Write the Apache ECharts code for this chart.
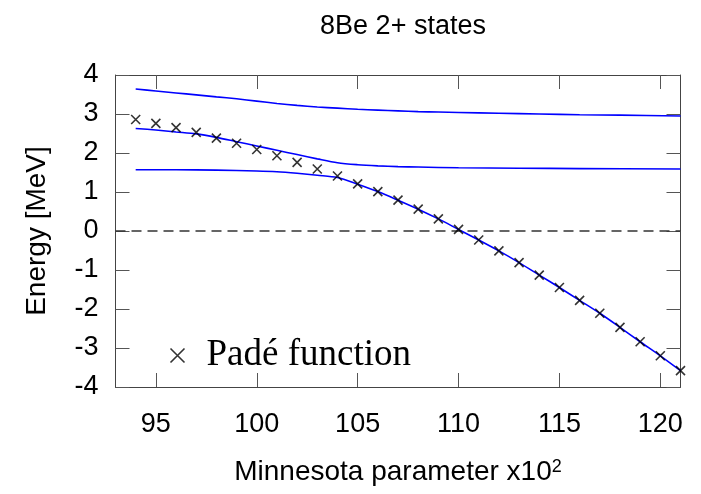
<!DOCTYPE html>
<html><head><meta charset="utf-8">
<script src="https://cdn.jsdelivr.net/npm/echarts@6/dist/echarts.min.js"></script>
<style>html,body{margin:0;padding:0;background:#fff}#c{width:701px;height:494px}</style>
</head><body><div id="c"></div>
<script>
// ---- data ----
const xTickValues = [95, 100, 105, 110, 115, 120];
const yTickValues = [-4, -3, -2, -1, 0, 1, 2, 3, 4];
const padeX = [94, 95, 96, 97, 98, 99, 100, 101, 102, 103, 104, 105, 106, 107, 108, 109, 110, 111, 112, 113, 114, 115, 116, 117, 118, 119, 120, 121];
const padeY = [2.86, 2.76, 2.65, 2.53, 2.38, 2.25, 2.09, 1.93, 1.76, 1.59, 1.41, 1.21, 1.01, 0.79, 0.56, 0.31, 0.04, -0.23, -0.51, -0.81, -1.13, -1.45, -1.78, -2.11, -2.47, -2.84, -3.20, -3.58];
const upperX = [94, 95, 96, 97, 98, 99, 100, 101, 102, 103, 104, 105, 106, 107, 108, 109, 110, 112, 114, 116, 118, 121];
const upperY = [3.64, 3.59, 3.54, 3.49, 3.44, 3.39, 3.33, 3.27, 3.22, 3.18, 3.15, 3.12, 3.10, 3.08, 3.06, 3.05, 3.04, 3.02, 3.00, 2.98, 2.97, 2.95];
const middleX = [94, 95, 96, 97, 98, 99, 100, 101, 102, 103, 104, 105, 106, 107, 108, 110, 113, 116, 121];
const middleY = [2.63, 2.59, 2.54, 2.49, 2.40, 2.29, 2.18, 2.07, 1.96, 1.85, 1.75, 1.70, 1.67, 1.65, 1.64, 1.62, 1.61, 1.60, 1.59];
const lowerX = [94, 96, 98, 100, 101, 102, 103, 104, 105, 106, 107, 108, 109, 110, 111, 112, 113, 114, 115, 116, 117, 118, 119, 120, 121];
const lowerY = [1.57, 1.57, 1.56, 1.54, 1.52, 1.48, 1.43, 1.37, 1.20, 1.01, 0.79, 0.56, 0.31, 0.04, -0.23, -0.51, -0.81, -1.13, -1.45, -1.78, -2.11, -2.47, -2.84, -3.20, -3.58];
const zeroLevel = 0;
const xMin = 93, xMax = 121, yMin = -4, yMax = 4;

// ---- helpers ----
const pairs = (xs, ys) => xs.map((x, i) => [x, ys[i]]);
const FONT = '"Liberation Sans", Arial, sans-serif';
const axisCol = '#444';
const tickCol = '#555';
const cross = 'path://M0,0L10,10M0,10L10,0';

function xAxisDef(pos, showLabel) {
  return {
    type: 'value', position: pos, min: xMin, max: xMax,
    axisLine: { show: true, onZero: false, lineStyle: { color: axisCol } },
    axisTick: { show: true, inside: true, length: 14, customValues: xTickValues, lineStyle: { color: tickCol, width: 1 } },
    axisLabel: { show: showLabel, customValues: xTickValues, margin: 24, color: '#000', fontSize: 27, fontFamily: FONT },
    splitLine: { show: false }
  };
}
function yAxisDef(pos, showLabel) {
  return {
    type: 'value', position: pos, min: yMin, max: yMax, interval: 1,
    axisLine: { show: true, onZero: false, lineStyle: { color: axisCol } },
    axisTick: { show: true, inside: true, length: 14, customValues: yTickValues, lineStyle: { color: tickCol, width: 1 } },
    axisLabel: { show: showLabel, customValues: yTickValues, margin: 17, color: '#000', fontSize: 27, fontFamily: FONT },
    splitLine: { show: false }
  };
}

const xBottom = xAxisDef('bottom', true);
xBottom.name = 'Minnesota parameter x10{sup|2}';
xBottom.nameLocation = 'middle';
xBottom.nameGap = 71;
xBottom.nameTextStyle = {
  color: '#000', fontSize: 28, fontFamily: FONT,
  rich: { sup: { fontSize: 18, fontFamily: FONT, color: '#000', verticalAlign: 'top' } }
};
const yLeft = yAxisDef('left', true);
yLeft.name = 'Energy [MeV]';
yLeft.nameLocation = 'middle';
yLeft.nameGap = 64;
yLeft.nameTextStyle = { color: '#000', fontSize: 28, fontFamily: FONT };

const blueLine = (name, xs, ys) => ({
  name, type: 'line', data: pairs(xs, ys), smooth: 0.3, showSymbol: false, symbol: 'none',
  lineStyle: { color: '#0000ff', width: 1.6 }, itemStyle: { color: '#0000ff' }, silent: true, z: 2
});

const lower = blueLine('lower', lowerX, lowerY);
lower.markLine = {
  silent: true, symbol: ['none', 'none'], label: { show: false },
  lineStyle: { color: '#333', width: 1.5, type: [10, 6] },
  data: [{ yAxis: zeroLevel }]
};

const option = {
  backgroundColor: '#fff',
  animation: false,
  title: {
    text: '8Be 2+ states', left: 398, top: 8, textAlign: 'center',
    textStyle: { color: '#000', fontSize: 27, fontWeight: 'normal', fontFamily: FONT }
  },
  grid: { left: 115.5, right: 20.5, top: 75, bottom: 107 },
  legend: {
    left: 163, top: 332, orient: 'vertical',
    itemWidth: 14, itemHeight: 14,
    data: [{ name: 'Padé function', icon: cross }],
    textStyle: { color: '#000', fontSize: 37, fontFamily: '"Liberation Serif", "Times New Roman", serif', padding: [0, 0, 0, 17] },
    itemStyle: { color: 'none', borderColor: '#000', borderWidth: 1.6 }
  },
  xAxis: [xBottom, xAxisDef('top', false)],
  yAxis: [yLeft, yAxisDef('right', false)],
  series: [
    blueLine('upper', upperX, upperY),
    blueLine('middle', middleX, middleY),
    lower,
    {
      name: 'Padé function', type: 'scatter', data: pairs(padeX, padeY),
      symbol: cross, symbolSize: 9,
      itemStyle: { color: 'none', borderColor: '#000', borderWidth: 1.6 },
      z: 5
    }
  ]
};
const chart = echarts.init(document.getElementById('c'), null, { renderer: 'canvas' });
chart.setOption(option);
</script></body></html>
